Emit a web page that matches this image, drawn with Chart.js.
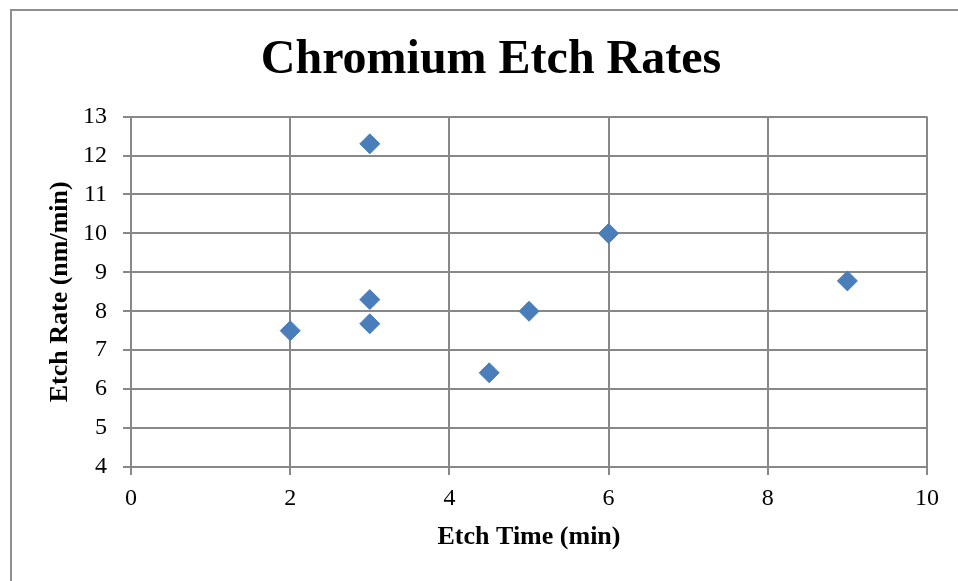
<!DOCTYPE html>
<html>
<head>
<meta charset="utf-8">
<script src="https://cdn.jsdelivr.net/npm/chart.js@4.4.1/dist/chart.umd.min.js"></script>
<style>
  html, body { margin: 0; padding: 0; background: #ffffff; overflow: hidden; width: 958px; height: 581px; }
  #frame { position: absolute; left: 10px; top: 9px; width: 2000px; height: 2000px;
           border-left: 2px solid #8f8f8f; border-top: 2px solid #8f8f8f; }
  #c { position: absolute; left: 0; top: 0; }
</style>
</head>
<body>
<div id="frame"></div>
<canvas id="c" width="982" height="581"></canvas>
<script>
const chartTitle = "Chromium Etch Rates";
const xAxisTitle = "Etch Time (min)";
const yAxisTitle = "Etch Rate (nm/min)";
const etchTime = [2, 3, 3, 3, 4.5, 5, 6, 9];
const etchRate = [7.5, 12.3, 8.3, 7.68, 6.42, 8.0, 10.0, 8.78];
const xTicks = [0, 2, 4, 6, 8, 10];
const yTicks = [4, 5, 6, 7, 8, 9, 10, 11, 12, 13];

const points = etchTime.map((x, i) => ({ x: x, y: etchRate[i] }));
const serif = "'Liberation Serif', 'Times New Roman', serif";
const gridColor = '#888888';

new Chart(document.getElementById('c'), {
  type: 'scatter',
  data: {
    datasets: [{
      label: 'Etch Rate',
      data: points,
      pointStyle: 'rectRot',
      pointRadius: 10,
      pointHoverRadius: 10,
      backgroundColor: '#4A7EBB',
      borderColor: '#4A7EBB',
      borderWidth: 1
    }]
  },
  options: {
    responsive: false,
    animation: false,
    devicePixelRatio: 1,
    layout: { padding: 0 },
    plugins: {
      legend: { display: false },
      tooltip: { enabled: false },
      title: {
        display: true,
        text: chartTitle,
        color: '#000',
        font: { family: serif, size: 48, weight: 'bold', lineHeight: 1.2 },
        padding: { top: 32, bottom: 27 }
      }
    },
    scales: {
      x: {
        type: 'linear',
        position: 'bottom',
        min: xTicks[0],
        max: xTicks[xTicks.length - 1],
        afterBuildTicks: s => { s.ticks = xTicks.map(v => ({ value: v })); },
        afterFit: s => { s.height = 114; },
        grid: { color: gridColor, lineWidth: 2, tickLength: 8, tickColor: gridColor, drawTicks: true },
        border: { color: gridColor, width: 2 },
        ticks: { color: '#000', font: { family: serif, size: 24 }, padding: 9, maxRotation: 0 },
        title: {
          display: true, text: xAxisTitle, color: '#000',
          font: { family: serif, size: 26, weight: 'bold', lineHeight: 1.2 },
          padding: { top: 0, bottom: 28 }
        }
      },
      y: {
        type: 'linear',
        position: 'left',
        min: yTicks[0],
        max: yTicks[yTicks.length - 1],
        afterBuildTicks: s => { s.ticks = yTicks.map(v => ({ value: v })); },
        afterFit: s => { s.width = 131; },
        grid: { color: gridColor, lineWidth: 2, tickLength: 8, tickColor: gridColor, drawTicks: true },
        border: { color: gridColor, width: 2 },
        ticks: { color: '#000', font: { family: serif, size: 24 }, padding: 16 },
        title: {
          display: true, text: yAxisTitle, color: '#000',
          font: { family: serif, size: 26, weight: 'bold', lineHeight: 1.2 },
          padding: { top: 45, bottom: 0 }
        }
      },
      yRight: {
        type: 'linear',
        position: 'right',
        display: true,
        afterFit: s => { s.width = 55; },
        grid: { display: false, drawTicks: false },
        border: { display: false },
        ticks: { display: false },
        title: { display: false }
      }
    }
  }
});
</script>
</body>
</html>
